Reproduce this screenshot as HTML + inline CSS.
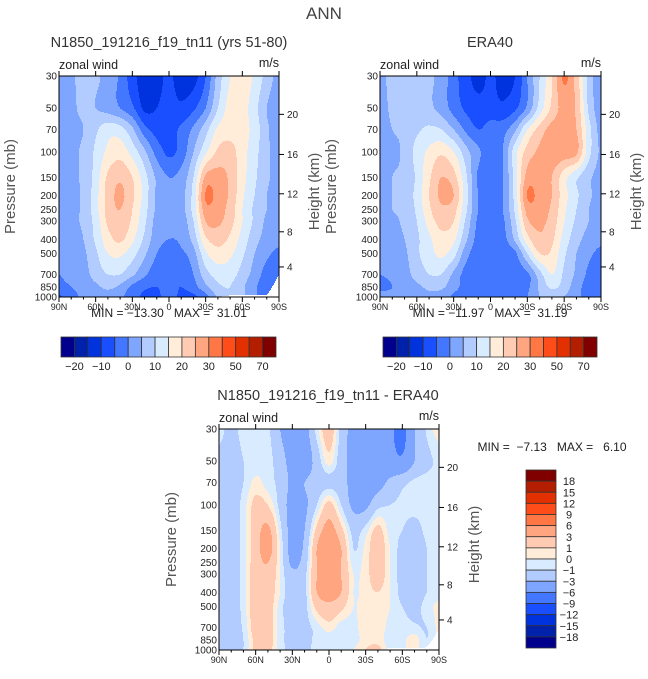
<!DOCTYPE html>
<html><head><meta charset="utf-8"><style>
html,body{margin:0;padding:0;background:#fff;}
svg text{font-family:"Liberation Sans",sans-serif;fill:#222;}
</style></head><body>
<svg id="root" xmlns="http://www.w3.org/2000/svg" width="648" height="674" viewBox="0 0 648 674">
<text x="324" y="19" font-size="17" text-anchor="middle" style="fill:#444">ANN</text>
<g id="p1"></g>
<g id="p2"></g>
<g id="p3"></g>
</svg>
<script>
// ---- data ----
const pLevels = [30,50,70,100,150,200,250,300,400,500,700,850,1000];
const latLabels = ["90N","60N","30N","0","30S","60S","90S"];
const pLabels = [30,50,70,100,150,200,250,300,400,500,700,850,1000];
const hLabels = ["20","16","12","8","4"];
const colors = ["#00008c","#0022aa","#0033dd","#1a4fff","#4477ff","#7fa6ff","#b3ccff","#d9ebff","#ffedd9","#ffccb3","#ffa680","#ff7744","#ff4d1a","#e33000","#b31e00","#800000"];
const levelsFull = [-20,-15,-10,-5,0,5,10,15,20,25,30,40,50,60,70];
const cbLabelsFull = ["","-20","","-10","","0","","10","","20","","30","","50","","70"];
const levelsDiff = [-18,-15,-12,-9,-6,-3,-1,0,1,3,6,9,12,15,18];
const cbLabelsDiff = ["18","15","12","9","6","3","1","0","-1","-3","-6","-9","-12","-15","-18"];

// model (rows = pressure levels, cols = 90N..90S every 10 deg)
const model = [
[3,4,7,6,3,-1,-8,-13,-12,-9,-13,-12,-5,7,15,18,14,8,3],
[3,4,6,5,3,0,-4,-11,-10,-8,-9,-6,0,10,17,17,12,5,2],
[3,4,5,9,13,12,6,-3,-7,-7,-4,1,8,16,18,17,13,6,2],
[3,4,6,11,16,18,13,6,-2,-6,-3,5,14,21,22,17,12,6,3],
[3,4,6,12,21,24,20,12,4,0,2,10,26,27,24,17,11,6,3],
[3,4,6,13,22,26,21,13,4,2,3,12,30.5,28,24,16,10,5,3],
[3,4,6,13,22,25,20,12,4,2,3,12,28,27,23,15,9,5,3],
[3,4,6,12,21,24,19,11,3,1,2,10,25,26,22,15,9,4,2],
[2,3,5,11,18,21,16,9,2,0,1,7,19,22,19,13,7,3,1],
[1,2,4,9,15,16,12,6,0,-2,-1,3,14,18,16,11,5,1,-1],
[0,1,3,7,10,10,6,1,-3,-3,-4,0,8,12,12,8,3,-2,-3],
[-1,0,2,4,6,4,-1,-4,-5,-3,-5,-2,4,9,10,6,1,-3,null],
[-6,-2,1,2,3,1,-3,-6,-6,-3,-6,-6,-2,6,null,null,null,null,null]];
const modelSurf = [1000,1000,1000,1000,1000,1000,1000,1000,1000,1000,1000,1000,1000,1000,975,975,975,975,700];

const era = [
[3,7,7,7,6,3,-3,-8,-12,-9,-12,-10,0,10,20,31,23,8,2],
[3,6,7,7,6,3,-2,-6,-8,-8,-9,-6,1,12,21,27,24,9,2],
[3,5,6,9,11,10,5,-1,-5,-3,-2,4,15,22,27,28,25,12,3],
[3,4,6,12,16,19,15,7,1,-3,0,13,22,26,28,28,26,12,4],
[3,5,6,11,19,25,22,11,-1,-3,0,12,27,27,25,17,11,6,3],
[3,5,6,12,20,26,25,12,0,-3,0,12,30.3,28,25,17,11,6,3],
[3,5,6,11,19,24,22,11,0,-3,0,11,27,27,24,16,10,5,3],
[3,4,6,10,17,22,20,9,-1,-3,-1,9,24,26,23,15,9,5,3],
[2,3,5,9,14,18,16,6,-2,-4,-2,6,18,24,21,13,7,3,1],
[1,2,4,9,13,16,12,2,-3,-4,-3.5,-1,10,20,19,11,5,1,-1],
[0,1,3,7,10,10,4,-2,-3.5,-4,-3.5,-3,-1,8,15,9,4,-1,-2],
[-1,0,2,4,6,6,2,-2,-3.5,-4,-3.5,-3,-1,6,11,8,2,-2,-3],
[2,1,2,3,4,3,-1,-3,-3.5,-4,-3.5,-3,0,5,7,5,1,-1,-2]];
const eraSurf = [1000,1000,1000,1000,1000,1000,1000,1000,1000,1000,1000,1000,1000,1000,1000,1000,1000,1000,1000];

const diff = [
[-0.5,-1.5,-0.5,-0.5,-0.7,-3,-4.5,-4,-0.5,2,-1.5,-4,-4.5,-5,-5.5,-7,-3,-0.8,0.5],
[-1.5,-2,-1,-0.5,-0.5,-2,-4,-4.5,-2,0.5,-2,-4,-4.5,-4.5,-5,-5.5,-3,-1.5,-0.7],
[-1.5,-2,-1,0.3,-0.5,-1.5,-3.5,-3,-2,-1.5,-2,-4,-4.5,-4,-2.5,-1.5,-0.7,-0.5,-0.5],
[-1.5,-2,-0.5,1.5,1,-1.5,-4,-3.5,-1,1.5,-1,-3.5,-3.5,-1.5,-1,-0.8,-0.6,-0.5,-0.5],
[-1.5,-2,-0.5,2,3.5,-0.5,-4,-3,1.5,4,1.5,-1.5,-0.5,1.5,-0.5,-1,-1.5,-0.7,-0.5],
[-1.5,-2,-0.5,2,4,0,-4,-2.5,3,5.5,3,-1,0.3,2,0,-1.5,-2,-1,-0.5],
[-1.5,-2,-0.5,2,3,0,-3.5,-2,3,4.5,3,-0.5,0.5,2,0,-1.5,-2,-1,-0.5],
[-1.5,-2,-0.5,2,2.5,0,-2.5,-1.5,3,4.5,3,0,0.5,2,0,-1.5,-2,-1,-0.5],
[-1.5,-2,-0.5,2,2,0,-2,-1.5,3,4,3,0,0.5,1,0,-1.5,-2,-1,-0.5],
[-1.5,-2,-0.5,2,2,-0.5,-2,-1.5,1.5,2.5,1.5,0,0.5,0.5,0,-1,-1.5,-0.5,0.3],
[-1.5,-1.5,-0.8,2,2,-0.5,-1.5,-1.5,-0.5,0.5,-0.5,-0.3,0.5,0.5,-0.3,-0.5,-0.8,-1,null],
[-1.5,-1.5,-1,1.5,2,-0.5,-1.5,-1.5,-0.7,-0.5,-0.7,-0.5,0.5,0.5,-0.5,-0.3,0.5,null,null],
[-1.5,-1.5,-1,1.5,1.5,-0.5,-1.5,-1.5,-0.5,-0.5,-0.5,0,1,1.5,null,null,null,null,null]];
const diffSurf = [1000,1000,1000,1000,1000,1000,1000,1000,1000,1000,1000,1000,1000,1000,970,970,970,960,720];

const minMax1 = "MIN = \u221213.30   MAX =  31.01";
const minMax2 = "MIN = \u221211.97   MAX =  31.19";
const minMax3 = "MIN =  \u22127.13   MAX =   6.10";

// ---- helpers ----
const NS = "http://www.w3.org/2000/svg";
function mk(tag, attrs, parent){const e=document.createElementNS(NS,tag);for(const k in attrs)e.setAttribute(k,attrs[k]);if(parent)parent.appendChild(e);return e;}
const LNR = Math.log(1000/30);
function yOfP(p,y0,h){return y0 + h*Math.log(p/30)/LNR;}
function fillNulls(d){const o=d.map(r=>r.slice());for(let i=1;i<o.length;i++)for(let j=0;j<o[i].length;j++)if(o[i][j]===null)o[i][j]=o[i-1][j];return o;}
function colorIdx(v,lev){let k=0;while(k<lev.length&&v>=lev[k])k++;return k;}
function cr(a,i,t){
  const n=a.length;const p0=a[Math.max(0,i-1)],p1=a[i],p2=a[Math.min(n-1,i+1)],p3=a[Math.min(n-1,i+2)];
  const t2=t*t,t3=t2*t;
  return 0.5*((2*p1)+(-p0+p2)*t+(2*p0-5*p1+4*p2-p3)*t2+(-p0+3*p1-3*p2+p3)*t3);
}

function drawField(g,data,surf,lev,x0,y0,w,h){
  const d=fillNulls(data);
  const lnL=pLevels.map(p=>Math.log(p));
  const nLat=d[0].length;
  for(let py=0;py<h;py++){
    const p=30*Math.exp((py+0.5)/h*LNR), lp=Math.log(p);
    let i=0;while(i<pLevels.length-2&&lp>lnL[i+1])i++;
    const t=Math.min(1,Math.max(0,(lp-lnL[i])/(lnL[i+1]-lnL[i])));
    const row=[];
    for(let j=0;j<nLat;j++){row.push(cr(d.map(r=>r[j]),i,t));}
    let runStart=0,runCol=null;
    const flush=(end)=>{ if(runCol!==null&&runCol!=="none"){
        const r=mk("rect",{x:x0+runStart,y:y0+py,width:end-runStart,height:1.02,fill:runCol},g);
        
        
      }};
    for(let px=0;px<w;px++){
      const f=(px+0.5)/w*(nLat-1);let j=Math.min(nLat-2,Math.floor(f));const u=f-j;
      const ps=surf[j]*(1-u)+surf[j+1]*u;
      let col;
      if(p>ps){col="none";}
      else{ col=colors[colorIdx(cr(row,j,u),lev)]; }
      if(col!==runCol){flush(px);runStart=px;runCol=col;}
    }
    flush(w);
  }
}

function drawPanel(gid,opt){
  const g=document.getElementById(gid);
  const {x0,y0,w,h}=opt;
  const fg=mk("g",{"shape-rendering":"crispEdges"},g);
  
  
  drawField(fg,opt.data,opt.surf,opt.lev,x0,y0,w,h);
  const fr=mk("rect",{x:x0,y:y0,width:w,height:h,fill:"none",stroke:"#000","stroke-width":1},g);
  
  
  const t=mk("text",{x:opt.tx,y:y0-29,"font-size":14.5,"text-anchor":"middle",style:"fill:#333"},g);t.textContent=opt.title;
  
  const zw=mk("text",{x:x0,y:y0-7,"font-size":12.5},g);zw.textContent="zonal wind";
  
  const ms=mk("text",{x:x0+w,y:y0-9,"font-size":12.5,"text-anchor":"end"},g);ms.textContent="m/s";
  
  for(let k=0;k<=18;k++){
    const x=x0+w*k/18, major=(k%3===0);
    mk("line",{x1:x,x2:x,y1:y0+h,y2:y0+h+(major?5:2.5),stroke:"#000","stroke-width":1},g);
    if(major) mk("line",{x1:x,x2:x,y1:y0,y2:y0-5,stroke:"#000","stroke-width":1},g);
  }
  latLabels.forEach((s,k)=>{const e=mk("text",{x:x0+w*k/6,y:y0+h+13,"font-size":9,"text-anchor":"middle"},g);e.textContent=s;
    });
  pLabels.forEach(p=>{const y=yOfP(p,y0,h);const e=mk("text",{x:x0-2,y:y+3.5,"font-size":10,"text-anchor":"end"},g);e.textContent=p;
    });
  const hf=[0.1735,0.355,0.533,0.705,0.864];
  hLabels.forEach((s,k)=>{const y=y0+h*hf[k];mk("line",{x1:x0+w,x2:x0+w+5,y1:y,y2:y,stroke:"#000"},g);
    const e=mk("text",{x:x0+w+8,y:y+3.5,"font-size":10},g);e.textContent=s;
    });
  const yc=y0+h*0.5;
  const yl=mk("text",{x:0,y:0,"font-size":15,"text-anchor":"middle",transform:`translate(${opt.plx},${yc}) rotate(-90)`,style:"fill:#555"},g);yl.textContent="Pressure (mb)";
  
  const hl=mk("text",{x:0,y:0,"font-size":15,"text-anchor":"middle",transform:`translate(${x0+w+40},${yc+5}) rotate(-90)`,style:"fill:#555"},g);hl.textContent="Height (km)";
  
  const mm=mk("text",{x:opt.mmx,y:opt.mmy,"font-size":12,"text-anchor":"middle",style:"white-space:pre"},g);mm.textContent=opt.mm;
  
}

function hColorbar(gid,x0,y0,w,h){
  const g=document.getElementById(gid);
  const cb=mk("g",{},g);
  const bw=w/16;
  colors.forEach((c,k)=>{const r=mk("rect",{x:x0+k*bw,y:y0,width:bw,height:h,fill:c,stroke:"#333","stroke-width":0.8},cb);
    });
  cbLabelsFull.forEach((s,k)=>{if(!s)return;const e=mk("text",{x:x0+k*bw,y:y0+h+13,"font-size":11,"text-anchor":"middle"},cb);e.textContent=s.replace("-","\u2212");
    });
}
function vColorbar(gid,x0,y0,w,h){
  const g=document.getElementById(gid);
  const cb=mk("g",{},g);
  const bh=h/16;
  colors.slice().reverse().forEach((c,k)=>{const r=mk("rect",{x:x0,y:y0+k*bh,width:w,height:bh,fill:c,stroke:"#333","stroke-width":0.8},cb);
    });
  cbLabelsDiff.forEach((s,k)=>{const e=mk("text",{x:x0+w+13,y:y0+(k+1)*bh+4,"font-size":11,"text-anchor":"middle"},cb);e.textContent=s.replace("-","\u2212");
    });
}

drawPanel("p1",{x0:59,y0:76,w:220,h:221,data:model,surf:modelSurf,lev:levelsFull,title:"N1850_191216_f19_tn11 (yrs 51-80)",tx:169,plx:15,mm:minMax1,mmx:169,mmy:317});
hColorbar("p1",61,337,215,20);
drawPanel("p2",{x0:380,y0:76,w:221,h:221,data:era,surf:eraSurf,lev:levelsFull,title:"ERA40",tx:490,plx:336,mm:minMax2,mmx:490,mmy:317});
hColorbar("p2",383,337,214,20);
drawPanel("p3",{x0:219,y0:429,w:220,h:221,data:diff,surf:diffSurf,lev:levelsDiff,title:"N1850_191216_f19_tn11 - ERA40",tx:328,plx:176,mm:minMax3,mmx:552,mmy:451});
vColorbar("p3",526,470,30,178);
</script>
</body></html>
